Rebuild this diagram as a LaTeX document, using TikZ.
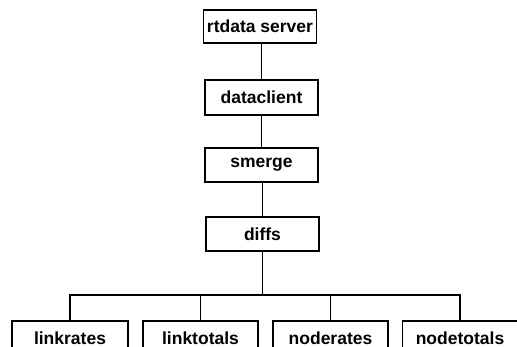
\documentclass[tikz,border=0pt]{standalone}
\usepackage{fontspec}
\setmainfont{Liberation Sans}
\begin{document}
\begin{tikzpicture}[x=1pt,y=-1pt,
  box/.style={draw, line width=1.8pt, minimum width=113pt, minimum height=34pt,
    inner sep=0pt, font=\bfseries\fontsize{17.5}{20}\selectfont},
  wire/.style={line width=1.8pt}]
\useasboundingbox (0,0) rectangle (517,347);
\clip (0,0) rectangle (517,347);
\fill[white] (0,0) rectangle (517,347);

% processing chain
\node[box, minimum height=33pt] (rt) at (260,26.5) {rtdata server};
\node[box, minimum height=35pt] (dc) at (261.5,97.5) {dataclient};
\node[box] (sm) at (261.5,165) {smerge};
\node[box] (df) at (262.5,234) {diffs};

% outputs
\node[box, minimum width=116pt] (lr) at (70,338) {linkrates};
\node[box, minimum width=115pt] (lt) at (200.5,338) {linktotals};
\node[box, minimum width=115pt] (nr) at (330.5,338) {noderates};
\node[box, minimum width=115pt] (nt) at (460,338) {nodetotals};

\coordinate (bus) at (0,295);

\draw[wire] (rt.south -| dc.north) -- (dc.north);
\draw[wire] (dc.south) -- (sm.north);
\draw[wire] (sm.south -| df.north) -- (df.north);
\draw[wire] (df.south) -- (df.south |- bus);
\draw[wire] (lr.north) -- (lr.north |- bus) -- (nt.north |- bus) -- (nt.north);
\draw[wire] (lt.north |- bus) -- (lt.north);
\draw[wire] (nr.north |- bus) -- (nr.north);
\end{tikzpicture}
\end{document}
